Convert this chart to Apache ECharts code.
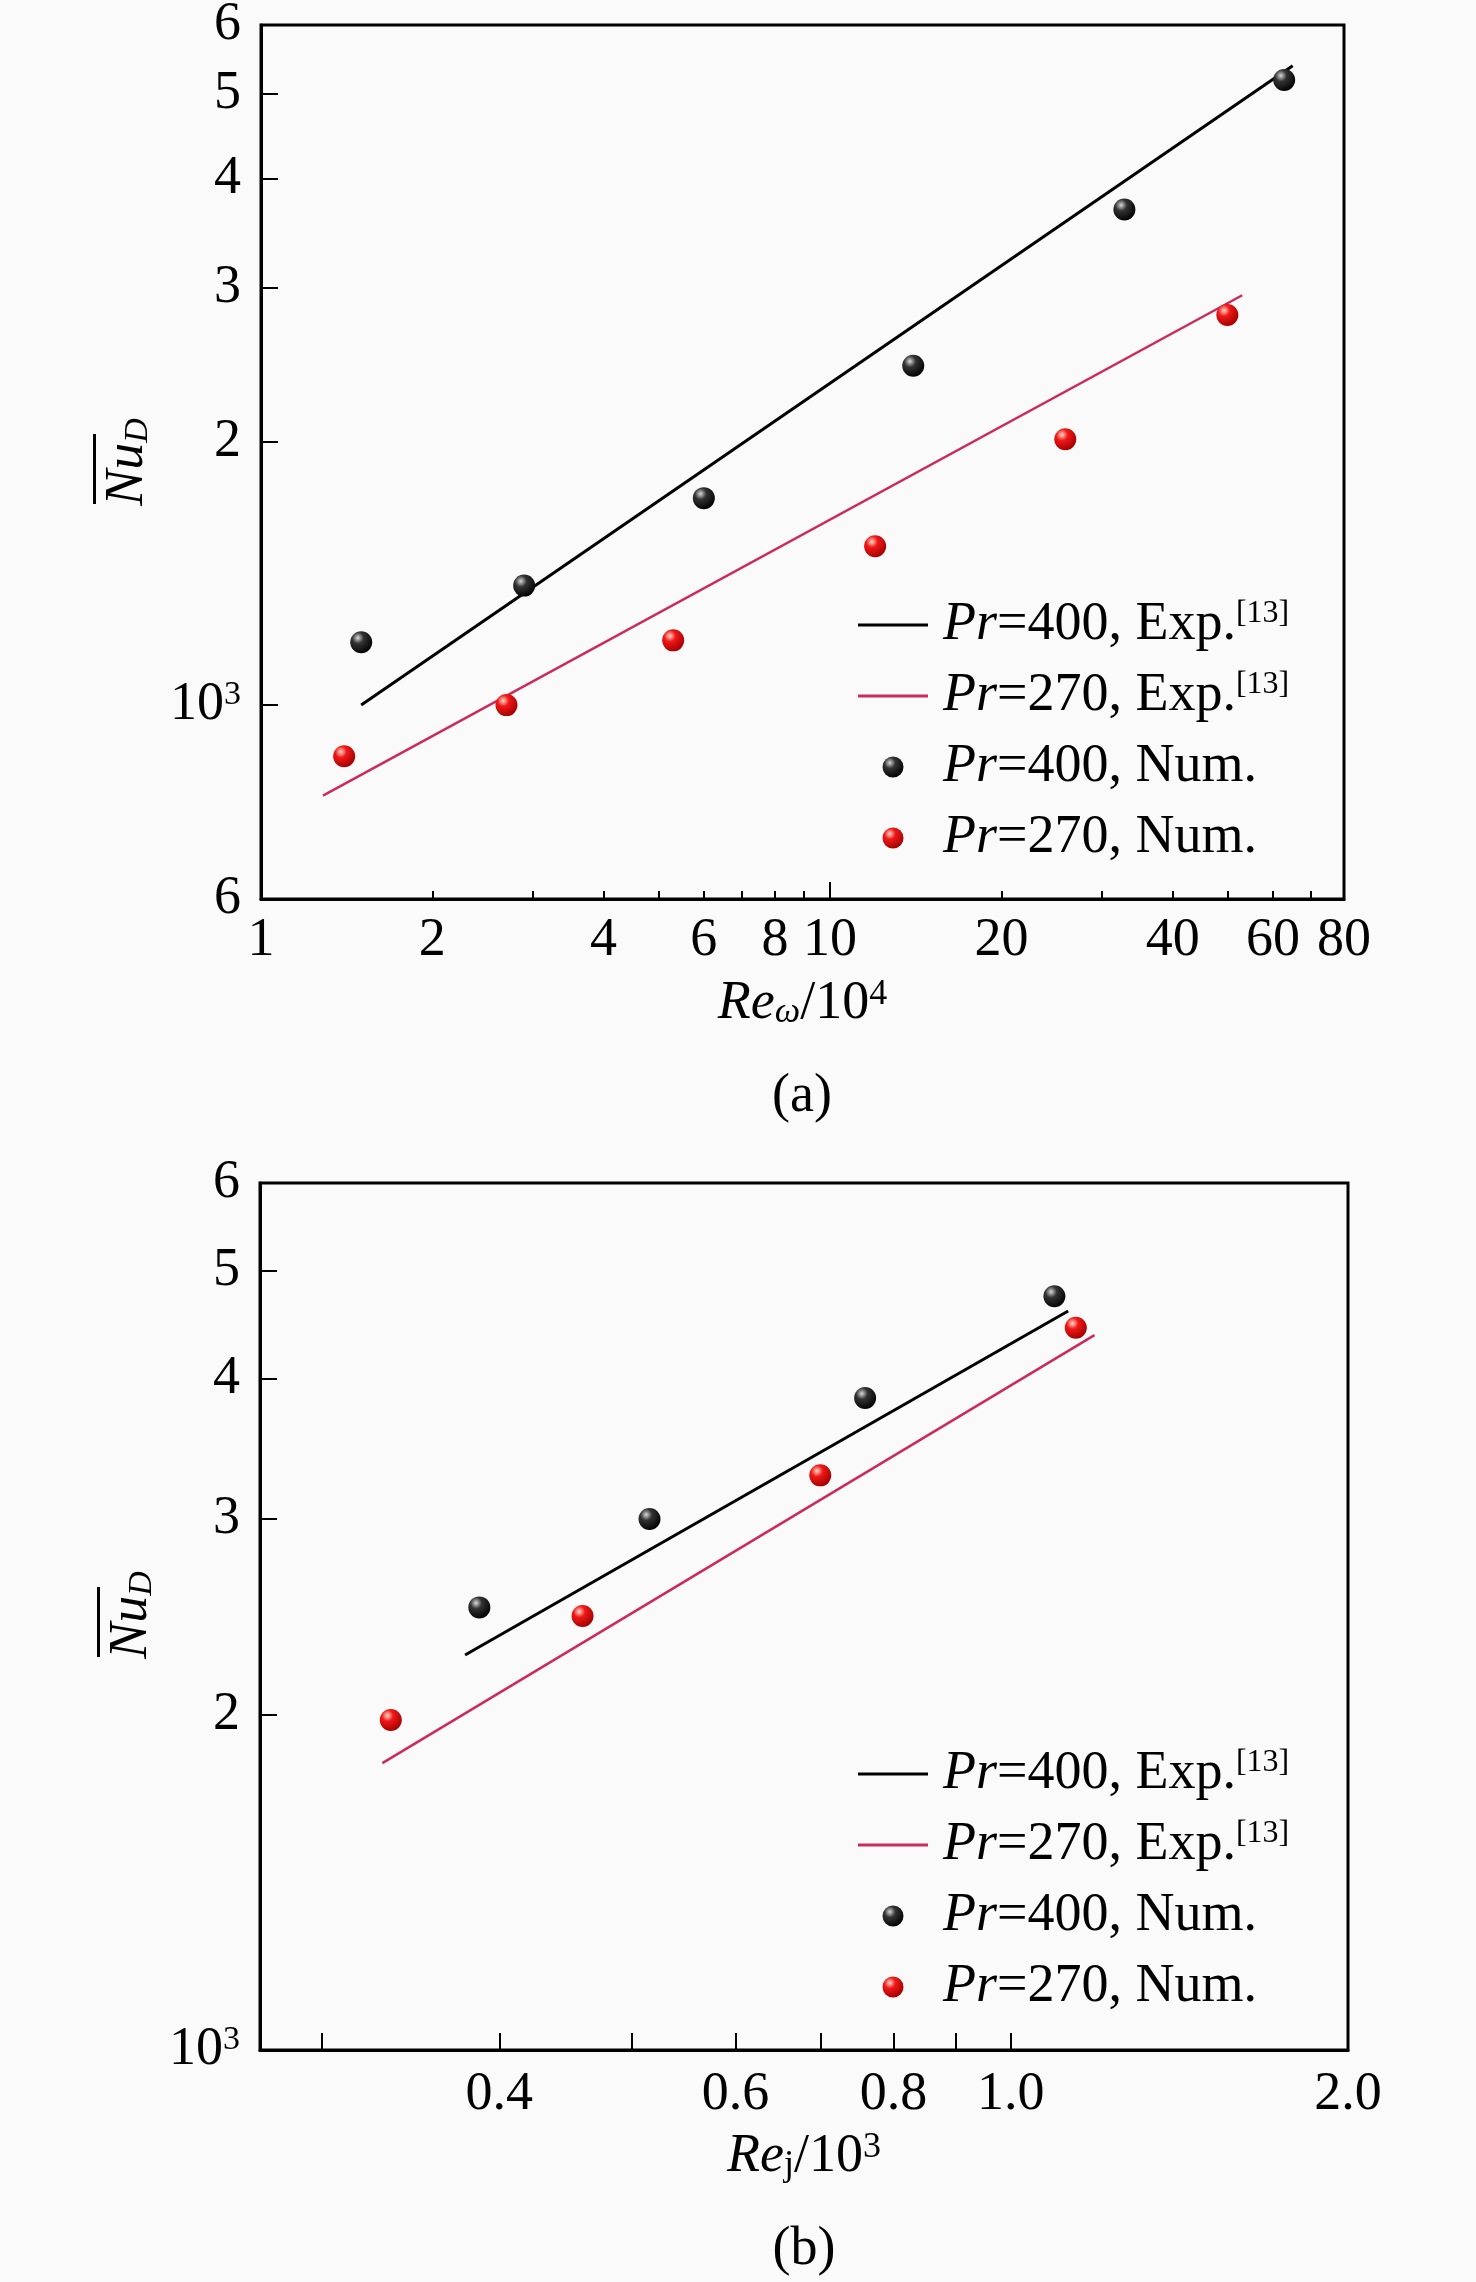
<!DOCTYPE html>
<html>
<head>
<meta charset="utf-8">
<title>Nu_D vs Re</title>
<script src="https://cdn.jsdelivr.net/npm/echarts@6.0.0/dist/echarts.min.js"></script>
<style>
  html, body { margin: 0; padding: 0; background: #fafafa; }
  #chart { width: 1476px; height: 2282px; }
</style>
</head>
<body>
<div id="chart"></div>
<script>
// ---- data ----
// (a)  Re_omega / 10^4  vs  Nu_D
var reOmega400 = [1.5, 2.9, 6.0, 14.0, 32.9, 62.8];
var nuA400 = [1180, 1370, 1725, 2445, 3690, 5190];
var reOmega270 = [1.4, 2.7, 5.3, 12.0, 25.9, 49.9];
var nuA270 = [874, 1000, 1186, 1520, 2015, 2795];
var expA400X = [1.5, 65], expA400Y = [1000, 5390];
var expA270X = [1.285, 53], expA270Y = [788, 2944];

// (b)  Re_j / 10^3  vs  Nu_D
var reJ400 = [0.387, 0.516, 0.759, 1.089];
var nuB400 = [2496, 2996, 3848, 4748];
var reJ270 = [0.335, 0.460, 0.699, 1.136];
var nuB270 = [1978, 2452, 3279, 4449];
var expB400X = [0.378, 1.119], expB400Y = [2262, 4605];
var expB270X = [0.3305, 1.179], expB270Y = [1809, 4381];

// tick labels
var xTicksA = [1, 2, 4, 6, 8, 10, 20, 40, 60, 80];
var xMinorA = [2, 3, 4, 5, 6, 7, 8, 9, 20, 30, 40, 50, 60, 70];
var yTicksA = [600, 1000, 2000, 3000, 4000, 5000, 6000];
var xTicksB = [0.4, 0.6, 0.8, 1.0, 2.0];
var xMinorB = [0.3, 0.4, 0.5, 0.6, 0.7, 0.8, 0.9, 1.0];
var yTicksB = [1000, 2000, 3000, 4000, 5000, 6000];

var NAMES = ['Pr=400, Exp.', 'Pr=270, Exp.', 'Pr=400, Num.', 'Pr=270, Num.'];

// the x axis of (b) in the original is not a plain log axis; its ticks sit on a
// power-type scale, so the values are mapped through this warp onto a value axis
var WARP_P = 0.17;
function warp(x) { return (1 - Math.pow(x, -WARP_P)) / WARP_P; }
function unwarp(v) { return Math.pow(1 - WARP_P * v, -1 / WARP_P); }

var FONT = 'Liberation Serif';
var RED_LINE = '#cc2a5c';
var LINE_ICON = 'path://M0,0L70,0L70,3L0,3Z';

function pairs(xs, ys, fx) {
  return xs.map(function (x, i) { return [fx ? fx(x) : x, ys[i]]; });
}

var ballBlack = {
  type: 'radial', x: 0.35, y: 0.3, r: 0.75,
  colorStops: [{ offset: 0, color: '#d8d8d8' }, { offset: 0.35, color: '#333' }, { offset: 1, color: '#000' }]
};
var ballRed = {
  type: 'radial', x: 0.35, y: 0.3, r: 0.75,
  colorStops: [{ offset: 0, color: '#ffd8c8' }, { offset: 0.35, color: '#f01818' }, { offset: 1, color: '#a00000' }]
};

function yLabel(v) {
  if (Math.abs(v - 1000) < 1) return '{b|10}{s|3}';
  if (Math.abs(v - 600) < 1) return '6';
  return String(Math.round(v / 1000));
}

var labelRich = {
  b: { fontFamily: FONT, fontSize: 54, color: '#000', lineHeight: 54 },
  s: { fontFamily: FONT, fontSize: 34, color: '#000', lineHeight: 30, verticalAlign: 'top' }
};

function axisNameRich() {
  return {
    i: { fontFamily: FONT, fontSize: 54, fontStyle: 'italic', color: '#000', lineHeight: 54 },
    n: { fontFamily: FONT, fontSize: 54, color: '#000', lineHeight: 54 },
    sub: { fontFamily: FONT, fontSize: 36, fontStyle: 'italic', color: '#000', lineHeight: 28, verticalAlign: 'bottom' },
    subr: { fontFamily: FONT, fontSize: 36, color: '#000', lineHeight: 28, verticalAlign: 'bottom' },
    sup: { fontFamily: FONT, fontSize: 36, color: '#000', lineHeight: 30, verticalAlign: 'top' }
  };
}

function legendFor(top) {
  return {
    orient: 'vertical', left: 853, top: top,
    itemWidth: 70, itemHeight: 21, itemGap: 17,
    selectedMode: false,
    data: [
      { name: NAMES[0], icon: LINE_ICON },
      { name: NAMES[1], icon: LINE_ICON },
      { name: NAMES[2] },
      { name: NAMES[3] }
    ],
    formatter: function (name) {
      var s = '{i|Pr}{n|' + name.slice(2) + '}';
      if (name.indexOf('Exp') >= 0) s += '{s|[13]}';
      return s;
    },
    textStyle: {
      fontFamily: FONT, fontSize: 54, color: '#000',
      rich: {
        i: { fontFamily: FONT, fontSize: 54, fontStyle: 'italic', color: '#000', lineHeight: 54, padding: [0, 0, 0, 10] },
        n: { fontFamily: FONT, fontSize: 54, color: '#000', lineHeight: 54 },
        s: { fontFamily: FONT, fontSize: 32, color: '#000', lineHeight: 32, verticalAlign: 'top' }
      }
    }
  };
}

function yTitle(x, y) {
  return {
    type: 'group', x: x, y: y, rotation: Math.PI / 2,
    children: [
      {
        type: 'text', x: 0, y: 0,
        style: {
          text: '{i|Nu}{s|D}', align: 'center', verticalAlign: 'middle',
          rich: {
            i: { fontFamily: FONT, fontSize: 54, fontStyle: 'italic', fill: '#000', lineHeight: 54 },
            s: { fontFamily: FONT, fontSize: 34, fontStyle: 'italic', fill: '#000', lineHeight: 30, verticalAlign: 'bottom' }
          }
        }
      },
      { type: 'rect', shape: { x: -42, y: -35, width: 70, height: 3 }, style: { fill: '#000' } }
    ]
  };
}

var axisLine = { show: true, onZero: false, lineStyle: { color: '#000', width: 3 } };

var chart = echarts.init(document.getElementById('chart'));
chart.setOption({
  animation: false,
  backgroundColor: '#fafafa',
  grid: [
    { left: 261, top: 25, width: 1083, height: 874, show: true, borderColor: '#000', borderWidth: 3, outerBoundsMode: 'none' },
    { left: 260, top: 1183, width: 1088, height: 867, show: true, borderColor: '#000', borderWidth: 3, outerBoundsMode: 'none' }
  ],
  legend: [legendFor(593), legendFor(1742)],
  xAxis: [
    {
      gridIndex: 0, type: 'log', logBase: 10, min: 1, max: 80, position: 'bottom',
      axisLine: axisLine,
      axisTick: { show: true, inside: true, length: 8, customValues: xMinorA, lineStyle: { color: '#000', width: 2 } },
      axisLabel: {
        customValues: xTicksA, margin: 15, color: '#000', fontFamily: FONT, fontSize: 54,
        formatter: function (v) { return String(Math.round(v)); }
      },
      splitLine: { show: false },
      name: '{i|Re}{sub|ω}{n|/10}{sup|4}', nameLocation: 'middle', nameGap: 78, nameMoveOverlap: false,
      nameTextStyle: { fontFamily: FONT, fontSize: 54, color: '#000', rich: axisNameRich() }
    },
    {
      // longer tick at the decade
      gridIndex: 0, type: 'log', logBase: 10, min: 1, max: 80, position: 'bottom',
      axisLine: { show: false, onZero: false },
      axisTick: { show: true, inside: true, length: 17, customValues: [10], lineStyle: { color: '#000', width: 2 } },
      axisLabel: { show: false },
      splitLine: { show: false }
    },
    {
      gridIndex: 1, type: 'value', min: warp(0.2724), max: warp(2.0), position: 'bottom',
      axisLine: axisLine,
      axisTick: { show: true, inside: true, length: 17, customValues: xMinorB.map(warp), lineStyle: { color: '#000', width: 2 } },
      axisLabel: {
        customValues: xTicksB.map(warp), margin: 18, color: '#000', fontFamily: FONT, fontSize: 54,
        formatter: function (v) { return unwarp(v).toFixed(1); }
      },
      splitLine: { show: false },
      name: '{i|Re}{subr|j}{n|/10}{sup|3}', nameLocation: 'middle', nameGap: 80, nameMoveOverlap: false,
      nameTextStyle: { fontFamily: FONT, fontSize: 54, color: '#000', rich: axisNameRich() }
    }
  ],
  yAxis: [
    {
      gridIndex: 0, type: 'log', logBase: 10, min: 600, max: 6000, position: 'left',
      axisLine: axisLine,
      axisTick: { show: true, inside: true, length: 17, customValues: [1000, 2000, 3000, 4000, 5000], lineStyle: { color: '#000', width: 2 } },
      axisLabel: { customValues: yTicksA, margin: 20, color: '#000', fontFamily: FONT, fontSize: 54, formatter: yLabel, rich: labelRich },
      splitLine: { show: false }
    },
    {
      gridIndex: 1, type: 'log', logBase: 10, min: 1000, max: 6000, position: 'left',
      axisLine: axisLine,
      axisTick: { show: true, inside: true, length: 17, customValues: [2000, 3000, 4000, 5000], lineStyle: { color: '#000', width: 2 } },
      axisLabel: { customValues: yTicksB, margin: 20, color: '#000', fontFamily: FONT, fontSize: 54, formatter: yLabel, rich: labelRich },
      splitLine: { show: false }
    }
  ],
  graphic: [
    yTitle(128, 462),
    yTitle(132, 1615),
    { type: 'text', x: 802, y: 1097, style: { text: '(a)', fontFamily: FONT, fontSize: 54, fill: '#000', align: 'center', verticalAlign: 'middle' } },
    { type: 'text', x: 804, y: 2250, style: { text: '(b)', fontFamily: FONT, fontSize: 54, fill: '#000', align: 'center', verticalAlign: 'middle' } }
  ],
  series: [
    { name: NAMES[0], type: 'line', xAxisIndex: 0, yAxisIndex: 0, symbol: 'none', data: pairs(expA400X, expA400Y),
      lineStyle: { color: '#000', width: 3 }, itemStyle: { color: '#000' }, z: 2 },
    { name: NAMES[1], type: 'line', xAxisIndex: 0, yAxisIndex: 0, symbol: 'none', data: pairs(expA270X, expA270Y),
      lineStyle: { color: RED_LINE, width: 2.5 }, itemStyle: { color: RED_LINE }, z: 2 },
    { name: NAMES[2], type: 'scatter', xAxisIndex: 0, yAxisIndex: 0, symbolSize: 22, data: pairs(reOmega400, nuA400),
      itemStyle: { color: ballBlack, opacity: 1 }, z: 3 },
    { name: NAMES[3], type: 'scatter', xAxisIndex: 0, yAxisIndex: 0, symbolSize: 22, data: pairs(reOmega270, nuA270),
      itemStyle: { color: ballRed, opacity: 1 }, z: 3 },

    { name: NAMES[0], type: 'line', xAxisIndex: 2, yAxisIndex: 1, symbol: 'none', data: pairs(expB400X, expB400Y, warp),
      lineStyle: { color: '#000', width: 3 }, itemStyle: { color: '#000' }, z: 2 },
    { name: NAMES[1], type: 'line', xAxisIndex: 2, yAxisIndex: 1, symbol: 'none', data: pairs(expB270X, expB270Y, warp),
      lineStyle: { color: RED_LINE, width: 2.5 }, itemStyle: { color: RED_LINE }, z: 2 },
    { name: NAMES[2], type: 'scatter', xAxisIndex: 2, yAxisIndex: 1, symbolSize: 22, data: pairs(reJ400, nuB400, warp),
      itemStyle: { color: ballBlack, opacity: 1 }, z: 3 },
    { name: NAMES[3], type: 'scatter', xAxisIndex: 2, yAxisIndex: 1, symbolSize: 22, data: pairs(reJ270, nuB270, warp),
      itemStyle: { color: ballRed, opacity: 1 }, z: 3 }
  ]
});
</script>
</body>
</html>
